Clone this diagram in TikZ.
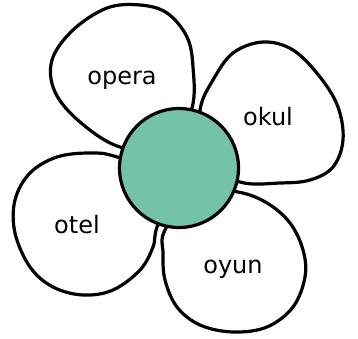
\documentclass[tikz,border=0pt]{standalone}
\usepackage{fontspec}
\setmainfont{DejaVu Sans}
\definecolor{teal}{HTML}{74C3A9}
\begin{document}
\begin{tikzpicture}[x=1pt,y=-1pt,
  petal/.style={draw=black,fill=white,line width=3.2pt,line join=round},
  word/.style={anchor=base,font=\fontsize{24}{28}\selectfont,inner sep=0pt}]
\useasboundingbox (0,0) rectangle (358,339);
% top-left petal
\draw[petal] plot[smooth cycle,tension=0.6] coordinates {(170,150) (192,108) (193,67) (187,37) (167,13) (140,5) (107,8) (73,30) (52,60) (55,92) (80,122) (120,147)};
% right petal
\draw[petal] plot[smooth cycle,tension=0.6] coordinates {(200,160) (200,110) (213,80) (233,53) (263,42) (293,50) (320,77) (338,107) (343,140) (333,167) (310,180) (280,183) (240,182)};
% bottom petal
\draw[petal] plot[smooth cycle,tension=0.6] coordinates {(195,190) (238,192) (267,203) (290,223) (303,250) (305,277) (293,307) (267,327) (233,332) (200,325) (177,307) (165,280) (163,253) (165,230)};
% left petal
\draw[petal] plot[smooth cycle,tension=0.6] coordinates {(175,180) (117,157) (90,153) (57,157) (30,173) (15,200) (15,233) (30,267) (53,287) (83,295) (113,290) (140,270) (153,247) (157,227)};
\node[circle,draw=black,fill=teal,line width=3.2pt,minimum size=119pt,inner sep=0pt] (c) at (179,168) {};
\node[word] (t1) at (122,85) {opera};
\node[word] (t2) at (268,126) {okul};
\node[word] (t3) at (77,233) {otel};
\node[word] (t4) at (233,273) {oyun};
\end{tikzpicture}
\end{document}
